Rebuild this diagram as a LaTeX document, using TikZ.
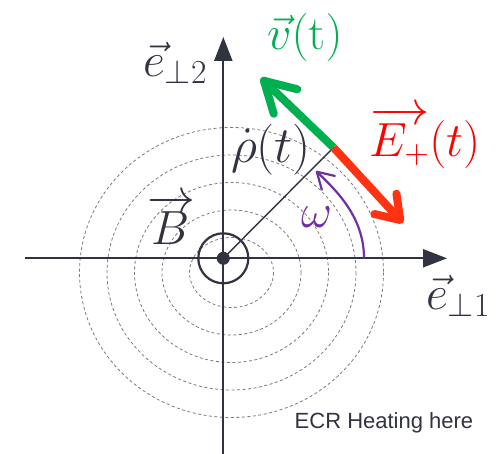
\documentclass[tikz,border=0pt]{standalone}
\usepackage{fix-cm}
\usepackage{fontspec}
\usepackage{tikz}
\usetikzlibrary{arrows.meta}

\definecolor{axisgray}{HTML}{323341}
\definecolor{ringgray}{HTML}{7A7A7A}
\definecolor{vgreen}{HTML}{00B050}
\definecolor{ered}{HTML}{FF3311}
\definecolor{omegapurple}{HTML}{7030A0}
\newfontfamily\notefont{Liberation Sans}

\begin{document}
\begin{tikzpicture}[
  x=1pt,y=-1pt,
  axis/.style={draw=axisgray,line width=2.2pt,-{Triangle[length=24pt,width=18pt]}},
  ring/.style={draw=ringgray,line width=0.8pt,dash pattern=on 3pt off 2.5pt},
  lbl/.style={font=\fontsize{48}{52}\selectfont,inner sep=0pt},
  field/.style={line width=8pt}
]
  \useasboundingbox (0,0) rectangle (497,454);

  % Orbits
  \foreach \k in {0,...,4}
    \draw[ring] (231.5,272.5) ellipse ({42+27.5*\k} and {35+27.5*\k});

  % Axes
  \coordinate (origin) at (223.3,258.3);
  \coordinate (xstart) at (25,258.3);
  \coordinate (xend) at (447,258.3);
  \coordinate (ystart) at (223.3,454);
  \coordinate (yend) at (223.3,37);
  \draw[axis] (xstart) -- (xend);
  \draw[axis] (ystart) -- (yend);

  % Field line into the page
  \node[circle,draw=axisgray,line width=2.2pt,minimum size=50pt,inner sep=0pt] (ring) at (origin) {};
  \node[circle,fill=axisgray,minimum size=13pt,inner sep=0pt] (dot) at (origin) {};

  % Radius and vectors
  \coordinate (rho) at (333.5,147.5);
  \coordinate (vtip) at (261,78);
  \coordinate (etip) at (403,223);
  \draw[axisgray,line width=1.4pt] (origin) -- (rho);
  \draw[field,vgreen,-{Straight Barb[length=30pt,width=34pt,round]}] (rho) -- (vtip);
  \draw[field,ered,-{Straight Barb[length=22pt,width=30pt,round]}] (rho) -- (etip);

  % Rotation
  \coordinate (wstart) at (364,258.3);
  \coordinate (wend) at (316,171);
  \draw[omegapurple,line width=2.2pt,-{Straight Barb[length=16pt,width=19pt,round]}]
    (wstart) .. controls (364,218) and (338,192) .. (wend);

  % Labels
  \node[lbl,text=axisgray] (e2) at (175,63) {$\vec{e}_{\perp2}$};
  \node[lbl,text=axisgray] (e1) at (458,296) {$\vec{e}_{\perp1}$};
  \node[lbl,text=vgreen] (vlbl) at (305,38) {$\vec{v}(\mathrm{t})$};
  \node[lbl,text=red] (elbl) at (425,138) {$\overrightarrow{E_{+}}(t)$};
  \node[lbl,text=axisgray,font=\fontsize{51}{55}\selectfont] (rholbl) at (271,150) {$\dot{\rho}(t)$};
  \node[lbl,text=axisgray] (blbl) at (171,220) {$\overrightarrow{B}$};
  \node[lbl,text=omegapurple] (wlbl) at (317,217) {$\omega$};
  \node[font=\notefont\fontsize{22}{25}\selectfont,text=axisgray,inner sep=0pt] (note) at (384,423) {ECR Heating here};
\end{tikzpicture}
\end{document}
